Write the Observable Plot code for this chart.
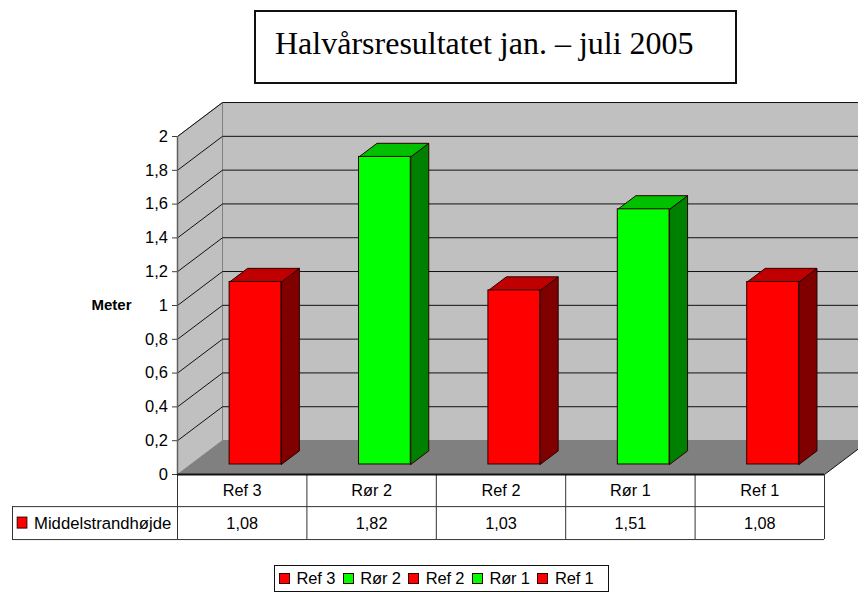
<!DOCTYPE html>
<html><head><meta charset="utf-8">
<script src="https://cdn.jsdelivr.net/npm/d3@7"></script>
<script src="https://cdn.jsdelivr.net/npm/@observablehq/plot@0.6"></script>
<style>
html,body{margin:0;padding:0;background:#fff;overflow:hidden}
#wrap{width:858px;height:592px;font-family:"Liberation Sans",Arial,sans-serif;color:#000}
#titlezone{height:90px;position:relative}
#title{position:absolute;left:254px;top:10px;width:479px;height:70px;border:2px solid #111;font:32px "Liberation Serif","Times New Roman",serif;line-height:62px;box-sizing:content-box;white-space:nowrap}
#title span{margin-left:19px}
#chart svg{display:block}
#legend{position:absolute;left:274px;top:565px;width:329px;height:25px;padding-left:4px;border:1px solid #111;display:flex;align-items:center;justify-content:flex-start;gap:7.5px;font-size:16.5px;letter-spacing:-.15px;box-sizing:content-box}
#legend i{display:inline-block;width:9px;height:9px;border:1px solid #300;margin-right:6.5px}
#legend b{font-weight:400;white-space:nowrap;display:flex;align-items:center}
</style></head><body>
<div id="wrap">
<div id="titlezone"><div id="title"><span id="ttl"></span></div></div>
<div id="chart"></div>
<div id="legend"></div>
</div>
<script>
const titleText = "Halvårsresultatet jan. – juli 2005";
const categories = ["Ref 3","Rør 2","Ref 2","Rør 1","Ref 1"];
const values = [1.08,1.82,1.03,1.51,1.08];
const valueLabels = ["1,08","1,82","1,03","1,51","1,08"];
const kinds = ["red","green","red","green","red"];
const seriesName = "Middelstrandhøjde";
const yTicks = [0,0.2,0.4,0.6,0.8,1,1.2,1.4,1.6,1.8,2];
const yLabel = "Meter";

const palette = {
  red:{front:"#ff0000",side:"#800000",top:"#c00000"},
  green:{front:"#00ff00",side:"#008000",top:"#00c000"}
};
// 3D projection in scale units: depth t runs 0 (front) to 1 (back wall)
const depthX = 0.348, depthY = 0.201;
const wallRight = 5.263;               // wall runs off the right edge of the picture
const floorCut = (wallRight-5)/depthX;
const barHalf = 0.2, barT0 = 0.295, barT1 = 0.695;
const row1 = -0.19, row2 = -0.385, keyLeft = -1.275;

const P = (u,v,t)=>({x:u+t*depthX,y:v+t*depthY});
const poly = (id,fill,pts)=>[...pts,pts[0]].map(([u,v,t])=>({id,fill,...P(u,v,t)}));

const rightBack = wallRight-depthX;
const wall = [
  ...poly("back","#c0c0c0",[[0,0,1],[rightBack,0,1],[rightBack,2,1],[0,2,1]]),
  ...poly("sideWall","#c0c0c0",[[0,0,0],[0,2,0],[0,2,1],[0,0,1]])
];
const floor = poly("floor","#808080",[[0,0,0],[5,0,0],[5,0,floorCut],[rightBack,0,1],[0,0,1]]);

const bars = categories.map((c,i)=>({c,i,v:values[i],u0:i+.5-barHalf,u1:i+.5+barHalf,k:palette[kinds[i]]}));
const barFaces = bars.flatMap(b=>[
  ...poly("s"+b.i,b.k.side,[[b.u1,0,barT0],[b.u1,b.v,barT0],[b.u1,b.v,barT1],[b.u1,0,barT1]]),
  ...poly("t"+b.i,b.k.top,[[b.u0,b.v,barT0],[b.u1,b.v,barT0],[b.u1,b.v,barT1],[b.u0,b.v,barT1]])
]);
const fmt = d=>String(d).replace(".",",");
const barFront = bars.map(b=>({x1:P(b.u0,0,barT0).x,x2:P(b.u1,0,barT0).x,y1:P(0,0,barT0).y,y2:P(0,b.v,barT0).y,fill:b.k.front}));

const plot = Plot.plot({
  width:858,height:470,
  marginLeft:177,marginRight:34,marginTop:46,marginBottom:86,
  style:{fontFamily:'"Liberation Sans",Arial,sans-serif',background:"#fff",color:"#000"},
  x:{type:"linear",domain:[0,5],axis:null},
  y:{type:"linear",domain:[0,2],axis:null},
  color:{type:"identity"},
  marks:[
    Plot.line(wall,{x:"x",y:"y",z:"id",fill:"fill",stroke:"#808080",strokeWidth:1}),
    Plot.line(floor,{x:"x",y:"y",z:"id",fill:"fill",stroke:"none"}),
    // grid across the side wall and the back wall
    Plot.link(yTicks.slice(1),{x1:()=>0,y1:d=>d,x2:()=>depthX,y2:d=>d+depthY,stroke:"#111",strokeWidth:1}),
    Plot.link(yTicks.slice(1),{x1:()=>depthX,y1:d=>d+depthY,x2:()=>wallRight,y2:d=>d+depthY,stroke:"#111",strokeWidth:1}),
    // bars
    Plot.line(barFaces,{x:"x",y:"y",z:"id",fill:"fill",stroke:"#2a0000",strokeWidth:1}),
    Plot.rect(barFront,{x1:"x1",x2:"x2",y1:"y1",y2:"y2",fill:"fill",stroke:"#2a0000",strokeWidth:1}),
    // front edges
    Plot.ruleX([0],{y1:2,y2:0,stroke:"#606060",strokeWidth:1.5}),
    Plot.link([0],{x1:()=>5,y1:()=>0,x2:()=>wallRight,y2:()=>floorCut*depthY,stroke:"#111",strokeWidth:1}),
    // table
    Plot.ruleX(d3.range(0,6),{y1:0,y2:row2,stroke:"#333",strokeWidth:1}),
    Plot.ruleX([keyLeft],{y1:row1,y2:row2,stroke:"#333",strokeWidth:1}),
    Plot.ruleY([row1,row2],{x1:keyLeft,x2:5,stroke:"#333",strokeWidth:1}),
    Plot.ruleY([0],{x1:0,x2:5,stroke:"#111",strokeWidth:2}),
    Plot.text(categories,{x:(d,i)=>i+.5,y:()=>-0.095,text:d=>d,fontSize:16.3,fill:"#000"}),
    Plot.text(valueLabels,{x:(d,i)=>i+.5,y:()=>-0.29,text:d=>d,fontSize:16.3,fill:"#000"}),
    Plot.text([seriesName],{x:()=>-1.109,y:()=>-0.29,text:d=>d,textAnchor:"start",fontSize:16.7,fill:"#000"}),
    Plot.rect([0],{x1:()=>-1.235,x2:()=>-1.16,y1:()=>-0.255,y2:()=>-0.32,fill:palette.red.front,stroke:"#300"}),
    // axis
    Plot.axisY(yTicks,{tickSize:5,tickPadding:4.5,tickFormat:fmt,fontSize:16.5,label:null,stroke:"#404040"}),
    Plot.text([yLabel],{x:()=>-0.51,y:()=>1,text:d=>d,fontSize:15,fontWeight:700,fill:"#000"})
  ]
});
document.getElementById("chart").appendChild(plot);
document.getElementById("ttl").textContent = titleText;
const lg = document.getElementById("legend");
categories.forEach((c,i)=>{
  const b=document.createElement("b");
  const sw=document.createElement("i"); sw.style.background=palette[kinds[i]].front;
  b.appendChild(sw); b.appendChild(document.createTextNode(c)); lg.appendChild(b);
});
</script>
</body></html>
